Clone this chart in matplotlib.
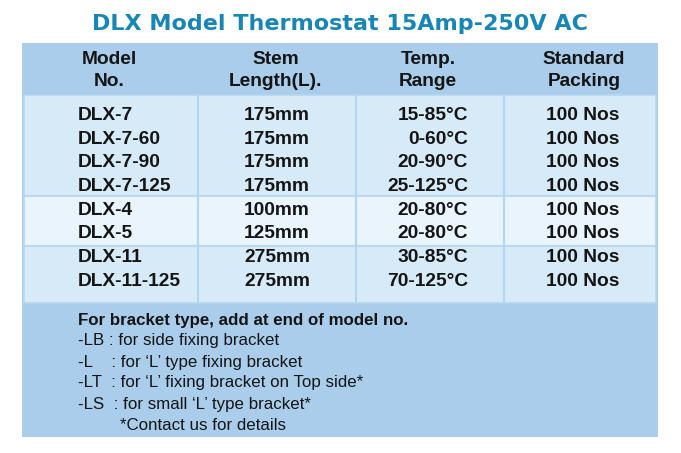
import matplotlib.pyplot as plt
from matplotlib.patches import Rectangle

title = "DLX Model Thermostat 15Amp-250V AC"
headers = [("Model", "No."), ("Stem", "Length(L)."), ("Temp.", "Range"), ("Standard", "Packing")]
models = ["DLX-7", "DLX-7-60", "DLX-7-90", "DLX-7-125", "DLX-4", "DLX-5", "DLX-11", "DLX-11-125"]
stems = ["175mm", "175mm", "175mm", "175mm", "100mm", "125mm", "275mm", "275mm"]
temps = ["15-85°C", "0-60°C", "20-90°C", "25-125°C", "20-80°C", "20-80°C", "30-85°C", "70-125°C"]
packing = ["100 Nos"] * 8
groups = [(0, 4), (4, 6), (6, 8)]
notes_head = "For bracket type, add at end of model no."
notes = ["-LB : for side fixing bracket",
         "-L    : for \u2018L\u2019 type fixing bracket",
         "-LT  : for \u2018L\u2019 fixing bracket on Top side*",
         "-LS  : for small \u2018L\u2019 type bracket*"]
notes_tail = "*Contact us for details"

dark_blue = "#a9cdeb"
body_blue = "#d6eaf8"
pale_blue = "#e9f4fc"
line_blue = "#b5d6f1"
txt = "#151515"

fig = plt.figure(figsize=(6.81, 4.53), dpi=100)
ax = fig.add_axes([0, 0, 1, 1])
ax.set_xlim(0, 681)
ax.set_ylim(453, 0)
ax.axis("off")

left, right = 22, 658
top, head_bot, body_bot, bottom = 43, 95, 303, 437
cols = [left, 198, 356, 504, right]
row0, dy = 115.5, 23.7

ax.add_patch(Rectangle((left, top), right - left, bottom - top, color=dark_blue, lw=0))

# body groups
edges = [head_bot, 196, 246, body_bot]
for g, (a, b) in enumerate(groups):
    c = pale_blue if g == 1 else body_blue
    ax.add_patch(Rectangle((left + 2, edges[g]), right - left - 4, edges[g + 1] - edges[g],
                           facecolor=c, edgecolor=line_blue, lw=1.2))
for x in cols[1:-1]:
    ax.plot([x, x], [head_bot, body_bot], color=line_blue, lw=1.5)

ax.text(340, 24, title, ha="center", va="center", fontsize=16, fontweight="bold",
        color="#1886b5", family="DejaVu Sans")

fs = 13.8
hx = [109, 276, 428, 584]
for x, (h1, h2) in zip(hx, headers):
    ax.text(x, 60, h1, ha="center", va="center", fontsize=fs, fontweight="bold",
            color=txt, family="Liberation Sans")
    ax.text(x, 81, h2, ha="center", va="center", fontsize=fs, fontweight="bold",
            color=txt, family="Liberation Sans")

for i in range(len(models)):
    y = row0 + dy * i
    kw = dict(va="center", fontsize=fs, fontweight="bold", color=txt, family="Liberation Sans")
    ax.text(78, y, models[i], ha="left", **kw)
    ax.text(244, y, stems[i], ha="left", **kw)
    ax.text(468, y, temps[i], ha="right", **kw)
    ax.text(583, y, packing[i], ha="center", **kw)

nfs = 12.2
ax.text(78, 320, notes_head, ha="left", va="center", fontsize=nfs, fontweight="bold",
        color=txt, family="Liberation Sans")
for i, n in enumerate(notes):
    ax.text(78, 341 + 21 * i, n, ha="left", va="center", fontsize=nfs,
            color=txt, family="Liberation Sans")
ax.text(120, 425, notes_tail, ha="left", va="center", fontsize=nfs,
        color=txt, family="Liberation Sans")

fig.savefig("out.png", dpi=100)
